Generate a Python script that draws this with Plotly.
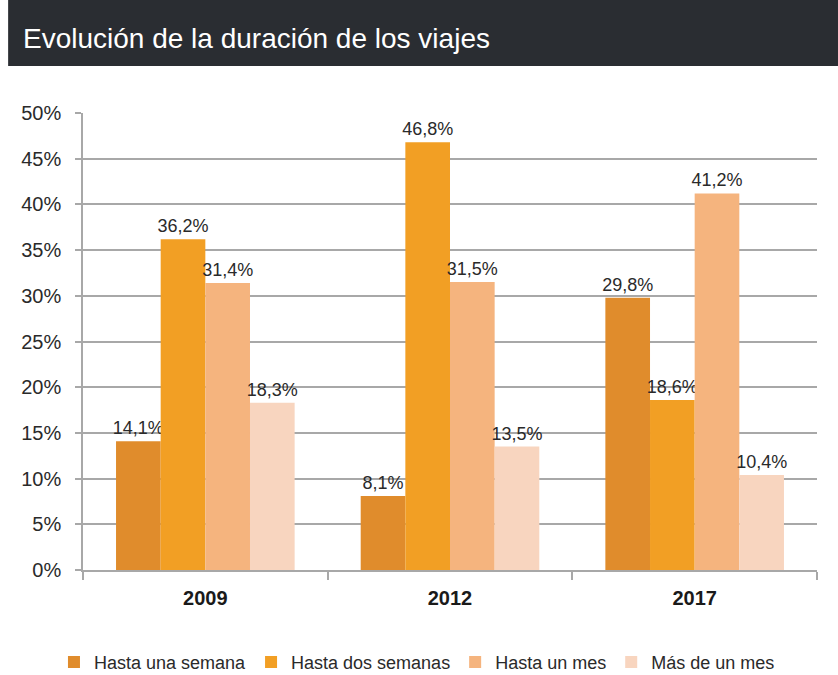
import plotly.graph_objects as go

years = ["2009", "2012", "2017"]
series_names = ["Hasta una semana", "Hasta dos semanas", "Hasta un mes", "Más de un mes"]
hasta_una_semana = [14.1, 8.1, 29.8]
hasta_dos_semanas = [36.2, 46.8, 18.6]
hasta_un_mes = [31.4, 31.5, 41.2]
mas_de_un_mes = [18.3, 13.5, 10.4]
colors = ["#E08C2C", "#F29F24", "#F5B47E", "#F8D5BF"]
y_ticks = [0, 0.05, 0.10, 0.15, 0.20, 0.25, 0.30, 0.35, 0.40, 0.45, 0.50]

all_series = [hasta_una_semana, hasta_dos_semanas, hasta_un_mes, mas_de_un_mes]
FONT = "Liberation Sans, Arial, Helvetica"

fig = go.Figure()
for name, vals, col in zip(series_names, all_series, colors):
    fig.add_trace(go.Bar(
        x=years, y=[v / 100 for v in vals], name=name,
        marker=dict(color=col, line=dict(width=0)),
        text=[f"{v:.1f}%".replace(".", ",") for v in vals],
        textposition="outside", cliponaxis=False, constraintext="none",
        textfont=dict(size=18, color="#2a2a2a", family=FONT),
    ))

fig.update_layout(
    width=838, height=675,
    margin=dict(l=83, r=21, t=113, b=105, autoexpand=False),
    paper_bgcolor="white", plot_bgcolor="white",
    barmode="group", bargap=0.27, bargroupgap=0,
    font=dict(family=FONT, color="#2a2a2a"),
    showlegend=True,
    legend=dict(orientation="h", x=0.455, xanchor="center",
                yref="container", y=0.019, yanchor="middle",
                font=dict(size=18, color="#2a2a2a"), itemwidth=30,
                tracegroupgap=0, traceorder="normal"),
)
fig.update_yaxes(range=[0, 0.5], tickvals=y_ticks, tickformat=".0%",
                 showgrid=True, gridcolor="#a8a8a8", gridwidth=1.5,
                 showline=True, linecolor="#a8a8a8", linewidth=1.5,
                 ticks="outside", ticklen=6, tickcolor="#a8a8a8", tickwidth=1.5,
                 ticklabelstandoff=10,
                 tickfont=dict(size=20, color="#2a2a2a"), zeroline=False)
fig.update_xaxes(showline=True, linecolor="#a8a8a8", linewidth=1.5,
                 ticks="outside", tickson="boundaries", ticklen=8, tickcolor="#a8a8a8", tickwidth=1.5,
                 ticklabelstandoff=9,
                 tickfont=dict(size=20, color="#1a1a1a", family=FONT),
                 tickprefix="<b>", ticksuffix="</b>")

fig.add_shape(type="rect", xref="paper", yref="paper",
              x0=-0.102, x1=1.0286, y0=1.103, y1=1.26,
              fillcolor="#2A2D32", line=dict(width=0), layer="above")
fig.add_annotation(text="Evolución de la duración de los viajes", xref="paper", yref="paper",
                   x=-0.085, y=1.163, xanchor="left", yanchor="middle", showarrow=False,
                   font=dict(size=28, color="white", family=FONT))

fig.write_html("out.html", config={"displayModeBar": False},
               post_script="document.body.style.margin='0';")
